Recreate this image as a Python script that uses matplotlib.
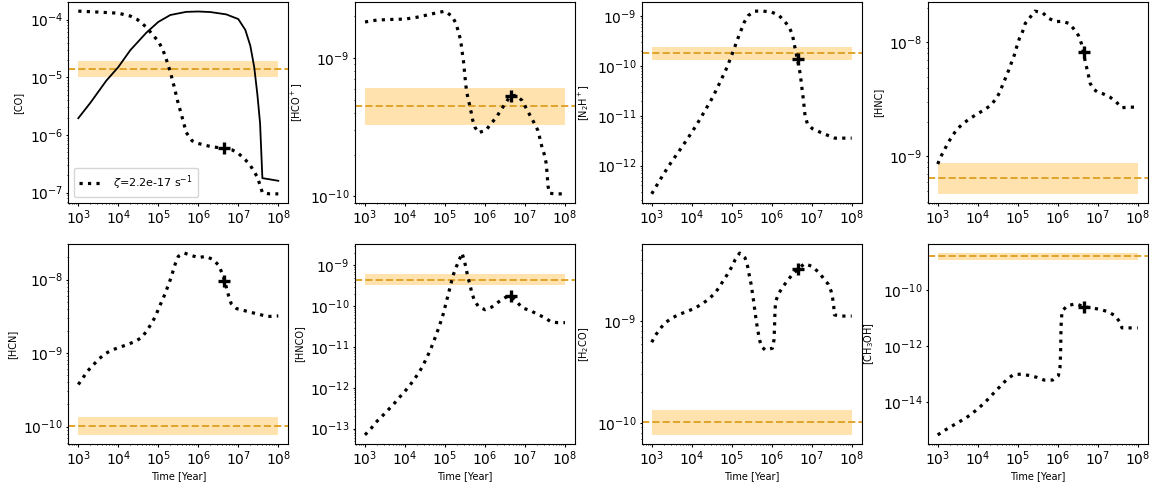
import numpy as np
import matplotlib
matplotlib.use('Agg')
import matplotlib.pyplot as plt
from matplotlib.ticker import LogLocator, NullLocator

# ---------------- data ----------------
t_co = [1e3, 3e3, 1e4, 2e4, 3e4, 5e4, 7e4, 1e5, 1.3e5, 1.6e5, 2e5, 2.5e5, 3e5, 4e5, 5e5, 7e5,
        1e6, 2e6, 5e6, 7e6, 1e7, 1.5e7, 2e7, 3e7, 4e7, 6e7, 1e8]
co = [1.40e-4, 1.35e-4, 1.29e-4, 1.15e-4, 1.0e-4, 7.4e-5, 5.6e-5, 4.2e-5, 3.0e-5, 2.0e-5, 1.23e-5,
      6.8e-6, 4.0e-6, 1.95e-6, 1.1e-6, 7.9e-7, 7.1e-7, 6.3e-7, 5.75e-7, 5.5e-7, 4.8e-7, 3.7e-7,
      2.95e-7, 1.86e-7, 1.0e-7, 9.5e-8, 9.5e-8]
t_co_solid = [1e3, 2e3, 5e3, 1e4, 2e4, 5e4, 1e5, 2e5, 5e5, 1e6, 2e6, 5e6, 1e7, 1.5e7, 2e7, 2.5e7,
              3e7, 3.5e7, 4e7, 6e7, 1e8]
co_solid = [1.95e-6, 3.6e-6, 8.7e-6, 1.5e-5, 2.95e-5, 5.9e-5, 9.1e-5, 1.2e-4, 1.36e-4, 1.38e-4,
            1.35e-4, 1.23e-4, 1.02e-4, 6.6e-5, 3.5e-5, 1.5e-5, 5e-6, 1.6e-6, 1.78e-7, 1.7e-7, 1.6e-7]

t_hcop = [1e3, 2e3, 5e3, 1e4, 2e4, 5e4, 1e5, 1.5e5, 1.9e5, 2.15e5, 2.4e5, 2.6e5, 2.75e5, 2.95e5,
          3.1e5, 3.35e5, 3.7e5, 4.1e5, 4.5e5, 4.9e5, 5.6e5, 6.8e5, 1.06e6, 1.4e6, 1.9e6, 2.5e6,
          3.2e6, 4.2e6, 6e6, 8.4e6, 1.06e7, 1.33e7, 1.7e7, 2.1e7, 2.37e7, 2.66e7, 3.0e7, 3.35e7,
          3.55e7, 3.75e7, 4.1e7, 6e7, 1e8]
hcop = [1.82e-9, 1.88e-9, 1.9e-9, 1.91e-9, 1.97e-9, 2.09e-9, 2.18e-9, 2.0e-9, 1.77e-9, 1.55e-9,
        1.38e-9, 1.2e-9, 1.05e-9, 9.1e-10, 7.7e-10, 6.2e-10, 5.2e-10, 4.6e-10, 4.06e-10, 3.57e-10,
        3.16e-10, 2.88e-10, 3.0e-10, 3.34e-10, 3.7e-10, 4.2e-10, 4.67e-10, 5.27e-10, 5.37e-10,
        4.93e-10, 4.35e-10, 3.85e-10, 3.38e-10, 2.99e-10, 2.6e-10, 2.26e-10, 2.03e-10, 1.76e-10,
        1.49e-10, 1.19e-10, 1.05e-10, 1.04e-10, 1.04e-10]

t_n2hp = [1e3, 1.6e3, 2.7e3, 4.6e3, 7.8e3, 1.3e4, 2.1e4, 3.3e4, 5.1e4, 7.6e4, 1.06e5, 1.47e5,
          2.07e5, 2.6e5, 3.8e5, 6.2e5, 1e6, 1.47e6, 2.07e6, 2.7e6, 3.3e6, 3.6e6, 4.0e6, 4.4e6,
          4.8e6, 5.2e6, 5.5e6, 5.8e6, 6.2e6, 6.8e6, 7.8e6, 1.04e7, 1.6e7, 2.6e7, 3.8e7, 1e8]
n2hp = [2.7e-13, 5.1e-13, 1.0e-12, 1.84e-12, 3.42e-12, 6.4e-12, 1.23e-11, 2.3e-11, 4.7e-11,
        9.3e-11, 1.86e-10, 3.8e-10, 7.6e-10, 1.03e-9, 1.26e-9, 1.26e-9, 1.2e-9, 1.06e-9, 8.0e-10,
        6.1e-10, 4.27e-10, 2.9e-10, 1.95e-10, 1.32e-10, 9.7e-11, 6.6e-11, 4.6e-11, 3.16e-11,
        2.1e-11, 1.02e-11, 6.9e-12, 5.5e-12, 4.7e-12, 4.0e-12, 3.55e-12, 3.55e-12]

t_hnc = [1e3, 1.21e3, 1.47e3, 1.86e3, 2.37e3, 3.1e3, 4.4e3, 6.5e3, 9.4e3, 1.45e4, 2.1e4, 2.8e4,
         3.5e4, 4.2e4, 5.0e4, 6.0e4, 7.1e4, 8.3e4, 9.4e4, 1.1e5, 1.32e5, 1.55e5, 2.04e5, 2.7e5,
         4.2e5, 5.9e5, 8.7e5, 1.29e6, 1.88e6, 2.45e6, 3.3e6, 3.9e6, 4.4e6, 4.8e6, 5.3e6, 5.9e6,
         6.5e6, 7.8e6, 9.8e6, 1.33e7, 2.04e7, 2.9e7, 4.0e7, 6.2e7, 1e8]
hnc = [8.55e-10, 1.0e-9, 1.14e-9, 1.33e-9, 1.53e-9, 1.74e-9, 1.95e-9, 2.15e-9, 2.34e-9, 2.55e-9,
       2.8e-9, 3.16e-9, 3.6e-9, 4.23e-9, 4.9e-9, 5.74e-9, 6.75e-9, 7.8e-9, 9.1e-9, 1.08e-8,
       1.24e-8, 1.47e-8, 1.66e-8, 1.88e-8, 1.82e-8, 1.63e-8, 1.52e-8, 1.53e-8, 1.47e-8, 1.33e-8,
       1.15e-8, 9.8e-9, 8.2e-9, 7.0e-9, 6.0e-9, 5.1e-9, 4.36e-9, 3.9e-9, 3.67e-9, 3.55e-9,
       3.3e-9, 3.0e-9, 2.67e-9, 2.7e-9, 2.7e-9]

t_hcn = [1e3, 1.33e3, 1.74e3, 2.4e3, 3.35e3, 4.7e3, 7.2e3, 1.1e4, 1.7e4, 2.66e4, 3.9e4, 5.2e4,
         6.8e4, 8.4e4, 1.0e5, 1.21e5, 1.47e5, 1.71e5, 2.0e5, 2.3e5, 2.66e5, 3.16e5, 4.5e5, 6.6e5,
         1.02e6, 1.55e6, 2.37e6, 3.24e6, 3.9e6, 4.5e6, 5.1e6, 5.75e6, 6.6e6, 9.1e6, 1.41e7, 2.2e7,
         3.55e7, 5.4e7, 1e8]
hcn = [3.73e-10, 4.67e-10, 5.75e-10, 6.95e-10, 8.4e-10, 9.8e-10, 1.11e-9, 1.2e-9, 1.31e-9,
       1.44e-9, 1.64e-9, 2.02e-9, 2.54e-9, 3.13e-9, 3.93e-9, 5.0e-9, 6.34e-9, 7.95e-9, 1.0e-8,
       1.27e-8, 1.64e-8, 2.07e-8, 2.29e-8, 2.13e-8, 1.99e-8, 2.07e-8, 1.86e-8, 1.56e-8, 1.23e-8,
       9.8e-9, 7.6e-9, 5.96e-9, 4.74e-9, 4.02e-9, 3.78e-9, 3.55e-9, 3.33e-9, 3.14e-9, 3.2e-9]

t_hnco = [1e3, 1.41e3, 1.88e3, 2.66e3, 3.7e3, 5.1e3, 6.9e3, 9.5e3, 1.29e4, 1.7e4, 2.2e4, 2.75e4,
          3.35e4, 4.1e4, 4.9e4, 5.75e4, 6.8e4, 7.9e4, 9.1e4, 1.02e5, 1.15e5, 1.29e5, 1.45e5,
          1.65e5, 1.95e5, 2.37e5, 2.66e5, 3.0e5, 3.35e5, 3.7e5, 4.14e5, 4.65e5, 5.4e5, 6.8e5,
          1.0e6, 1.47e6, 2.15e6, 3.35e6, 4.5e6, 5.75e6, 8.7e6, 1.33e7, 2.07e7, 3.16e7, 4.5e7,
          6.6e7, 1e8]
hnco = [7.0e-14, 1.0e-13, 1.43e-13, 2.0e-13, 2.8e-13, 3.87e-13, 5.5e-13, 7.8e-13, 1.11e-12,
        1.62e-12, 2.3e-12, 3.36e-12, 5.0e-12, 7.6e-12, 1.16e-11, 1.76e-11, 2.76e-11, 4.26e-11,
        6.6e-11, 1.03e-10, 1.62e-10, 2.54e-10, 3.98e-10, 6.25e-10, 9.6e-10, 1.51e-9, 2.0e-9,
        1.38e-9, 8.6e-10, 5.37e-10, 3.55e-10, 2.22e-10, 1.39e-10, 9.9e-11, 8.2e-11, 9.5e-11,
        1.26e-10, 1.67e-10, 1.74e-10, 1.39e-10, 9.0e-11, 7.9e-11, 6.3e-11, 5.2e-11, 4.1e-11,
        3.95e-11, 3.95e-11]

t_h2co = [1e3, 1.26e3, 1.65e3, 2.24e3, 3.3e3, 5.1e3, 7.8e3, 1.17e4, 1.78e4, 2.6e4, 3.7e4, 4.8e4,
          6.1e4, 7.8e4, 1.0e5, 1.23e5, 1.58e5, 2.15e5, 2.5e5, 2.75e5, 3.04e5, 3.29e5, 3.55e5,
          3.83e5, 4.14e5, 4.47e5, 4.9e5, 5.4e5, 6.8e5, 1.04e6, 1.14e6, 1.17e6, 1.19e6, 1.21e6,
          1.26e6, 1.52e6, 1.95e6, 2.5e6, 3.3e6, 4.5e6, 6.6e6, 1.0e7, 1.47e7, 1.95e7, 2.6e7,
          3.04e7, 3.35e7, 3.55e7, 3.7e7, 5.6e7, 1e8]
h2co = [6.19e-10, 7.3e-10, 8.5e-10, 9.7e-10, 1.08e-9, 1.17e-9, 1.25e-9, 1.33e-9, 1.47e-9,
        1.63e-9, 1.86e-9, 2.13e-9, 2.48e-9, 2.88e-9, 3.4e-9, 4.04e-9, 4.66e-9, 4.19e-9, 3.45e-9,
        2.82e-9, 2.33e-9, 1.9e-9, 1.55e-9, 1.23e-9, 9.85e-10, 8.16e-10, 6.77e-10, 5.7e-10,
        5.2e-10, 5.4e-10, 6.5e-10, 8.2e-10, 1.02e-9, 1.28e-9, 1.57e-9, 1.89e-9, 2.2e-9, 2.51e-9,
        2.88e-9, 3.23e-9, 3.67e-9, 3.46e-9, 3.04e-9, 2.65e-9, 2.3e-9, 1.98e-9, 1.66e-9, 1.4e-9,
        1.15e-9, 1.12e-9, 1.12e-9]

t_ch3oh = [1e3, 1.52e3, 2.33e3, 3.47e3, 5.3e3, 7.8e3, 1.1e4, 1.52e4, 2.1e4, 2.87e4, 4.0e4, 5.5e4,
           7.8e4, 1.26e5, 2.04e5, 3.0e5, 4.55e5, 7.5e5, 1.04e6, 1.14e6, 1.17e6, 1.19e6, 1.2e6,
           1.21e6, 1.24e6, 1.28e6, 1.75e6, 2.87e6, 4.4e6, 6.7e6, 1.1e7, 1.75e7, 2.7e7, 3.47e7,
           4.05e7, 6.4e7, 1e8]
ch3oh = [6.9e-16, 1.02e-15, 1.46e-15, 2.03e-15, 2.9e-15, 4.38e-15, 6.6e-15, 1.0e-14, 1.64e-14,
         2.63e-14, 4.3e-14, 6.86e-14, 9.8e-14, 1.03e-13, 9.0e-14, 7.9e-14, 6.3e-14, 6.3e-14,
         9.0e-14, 1.79e-13, 4.1e-13, 9.3e-13, 2.1e-12, 4.9e-12, 9.1e-12, 1.82e-11, 2.9e-11,
         3.33e-11, 2.67e-11, 2.4e-11, 2.14e-11, 1.77e-11, 1.27e-11, 7.9e-12, 4.6e-12, 4.6e-12,
         4.6e-12]

species_labels = ['[CO]', '[HCO$^+$]', '[N$_2$H$^+$]', '[HNC]',
                  '[HCN]', '[HNCO]', '[H$_2$CO]', '[CH$_3$OH]']

# best-fit time (cross) and model value there
t_best = 4.5e6
best_vals = [6.0e-7, 5.3e-10, 1.38e-10, 8.2e-9, 9.6e-9, 1.74e-10, 3.27e-9, 2.67e-11]

# observed abundance (dashed) and its range (band)
obs_vals = [1.4e-5, 4.47e-10, 1.86e-10, 6.4e-10, 1.02e-10, 4.45e-10, 1.02e-10, 1.7e-9]
obs_lo = [1.0e-5, 3.25e-10, 1.32e-10, 4.68e-10, 7.7e-11, 3.24e-10, 7.6e-11, 1.19e-9]
obs_hi = [1.93e-5, 6.1e-10, 2.43e-10, 8.73e-10, 1.36e-10, 6.0e-10, 1.35e-10, 2.17e-9]

band_t = [1e3, 1e8]
xtick_vals = [1e3, 1e4, 1e5, 1e6, 1e7, 1e8]
ch3oh_yticks = [1e-14, 1e-12, 1e-10]
legend_label = r'$\zeta$=2.2e-17 s$^{-1}$'

series_t = [t_co, t_hcop, t_n2hp, t_hnc, t_hcn, t_hnco, t_h2co, t_ch3oh]
series_y = [co, hcop, n2hp, hnc, hcn, hnco, h2co, ch3oh]

# ---------------- figure ----------------
W, H = 1152, 483
fig = plt.figure(figsize=(W / 100, H / 100), dpi=100)

col_left_px = [68.3, 355.0, 641.7, 927.7]
ax_w_px = 220.0
row_top_px = [2.0, 244.0]
ax_h_px = [201.0, 200.0]

band_color = '#ffa500'
dash_color = '#e0a42c'

axes = []
for i in range(8):
    r, c = divmod(i, 4)
    left = col_left_px[c] / W
    bottom = (H - row_top_px[r] - ax_h_px[r]) / H
    ax = fig.add_axes([left, bottom, ax_w_px / W, ax_h_px[r] / H])
    axes.append(ax)

    ax.set_xscale('log')
    ax.set_yscale('log')
    ax.fill_between(band_t, [obs_lo[i]] * 2, [obs_hi[i]] * 2, color=band_color,
                    alpha=0.32, lw=0, zorder=1)
    ax.axhline(obs_vals[i], color=dash_color, ls='--', lw=1.4, zorder=2)
    ax.plot(series_t[i], series_y[i], ls=':', lw=2.3, color='k', zorder=3,
            label=legend_label)
    if i == 0:
        ax.plot(t_co_solid, co_solid, '-', lw=1.3, color='k', zorder=3)
    ax.plot([t_best], [best_vals[i]], marker='+', ms=8, mew=2.4, color='k',
            ls='none', zorder=4)

    ax.set_xticks(xtick_vals)
    ax.xaxis.set_minor_locator(LogLocator(base=10, subs=np.arange(2, 10), numticks=100))
    if i == 7:
        ax.set_yticks(ch3oh_yticks)
        ax.yaxis.set_minor_locator(NullLocator())
    ax.tick_params(axis='both', which='major', labelsize=10, length=1.8, width=0.8, pad=2)
    ax.tick_params(axis='both', which='minor', length=1.0, width=0.6)
    ax.set_ylabel(species_labels[i], fontsize=7, labelpad=4.5)
    if r == 1:
        ax.set_xlabel('Time [Year]', fontsize=7, labelpad=2)

axes[0].legend(loc='lower left', fontsize=8, handlelength=2.2, borderpad=0.5)

fig.savefig('out.png', dpi=100)
